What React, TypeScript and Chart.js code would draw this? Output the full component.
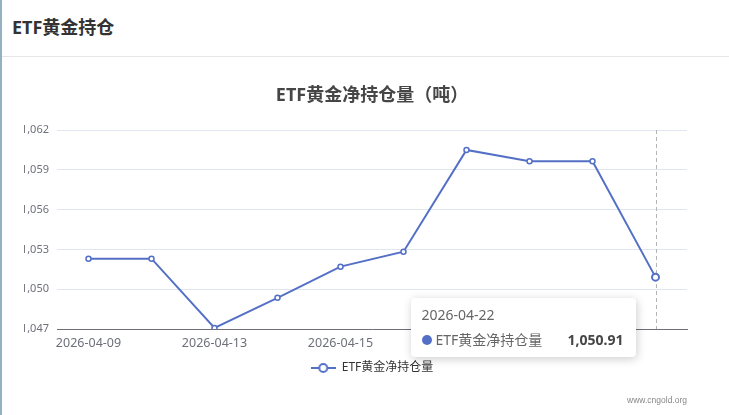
import React, { useEffect, useRef } from 'react';
import { Chart, registerables } from 'chart.js';

Chart.register(...registerables);

// ETF gold net holdings (tonnes)
const dates = [
  '2026-04-09', '2026-04-10', '2026-04-13', '2026-04-14', '2026-04-15',
  '2026-04-16', '2026-04-17', '2026-04-20', '2026-04-21', '2026-04-22',
];
const holdings = [1052.3, 1052.3, 1047.08, 1049.35, 1051.7, 1052.83, 1060.5, 1059.65, 1059.65, 1050.91];
const yTicks = [1047, 1050, 1053, 1056, 1059, 1062];
const seriesName = 'ETF黄金净持仓量';
const activeIndex = 9;

const BLUE = '#5470c6';
const FONT = "'Noto Sans', 'Noto Sans CJK SC', sans-serif";
const CANVAS_TOP = 60;

const fmt = (v: number, d = 0) =>
  v.toLocaleString('en-US', { minimumFractionDigits: d, maximumFractionDigits: d });

function legendIcon() {
  const c = document.createElement('canvas');
  c.width = 25;
  c.height = 12;
  const g = c.getContext('2d')!;
  g.strokeStyle = BLUE;
  g.lineWidth = 2;
  g.beginPath();
  g.moveTo(0, 6);
  g.lineTo(25, 6);
  g.stroke();
  g.beginPath();
  g.arc(12.5, 6, 4, 0, Math.PI * 2);
  g.fillStyle = '#fff';
  g.fill();
  g.stroke();
  return c;
}

// dashed vertical line under the hovered point
const crosshair = {
  id: 'crosshair',
  beforeDatasetsDraw(chart: any) {
    const act = chart.tooltip?.getActiveElements?.() || [];
    if (!act.length) return;
    const x = Math.round(act[0].element.x) + 0.5;
    const { top, bottom } = chart.chartArea;
    const ctx = chart.ctx;
    ctx.save();
    ctx.strokeStyle = '#b4b4b4';
    ctx.lineWidth = 1;
    ctx.setLineDash([4, 3]);
    ctx.beginPath();
    ctx.moveTo(x, top);
    ctx.lineTo(x, bottom);
    ctx.stroke();
    ctx.restore();
  },
};

function App() {
  const chartRef = useRef<HTMLCanvasElement>(null);
  const tipRef = useRef<HTMLDivElement>(null);

  useEffect(() => {
    if (!chartRef.current) return;
    const ctx = chartRef.current.getContext('2d');
    if (!ctx) return;
    const icon = legendIcon();

    const chart = new Chart(ctx, {
      type: 'line',
      data: {
        labels: dates,
        datasets: [
          {
            label: seriesName,
            data: holdings,
            borderColor: BLUE,
            backgroundColor: '#fff',
            borderWidth: 2,
            pointRadius: 2.5,
            pointBorderWidth: 1.5,
            pointBackgroundColor: '#fff',
            pointBorderColor: BLUE,
            pointHoverRadius: 3.5,
            pointHoverBorderWidth: 2,
            pointHoverBackgroundColor: '#fff',
            pointHoverBorderColor: BLUE,
            tension: 0,
          },
        ],
      },
      options: {
        responsive: false,
        animation: false,
        events: [],
        // the y axis box starts at x=24, so its labels get clipped like the original
        layout: { padding: { left: 24, right: 42, top: 0, bottom: 16 } },
        plugins: {
          title: {
            display: true,
            fullSize: false,
            text: 'ETF黄金净持仓量（吨）',
            color: '#464646',
            font: { family: FONT, size: 18, weight: 'bold' },
            padding: { top: 25, bottom: 23.4 },
          },
          legend: {
            position: 'bottom',
            fullSize: false,
            labels: {
              color: '#333',
              font: { family: FONT, size: 12 },
              padding: 4,
              usePointStyle: true,
              pointStyleWidth: 25,
              generateLabels: (c: any) =>
                Chart.defaults.plugins.legend.labels
                  .generateLabels(c)
                  .map((l: any) => ({ ...l, pointStyle: icon })),
            },
          },
          tooltip: {
            enabled: false,
            external: ({ tooltip }: any) => {
              const el = tipRef.current;
              if (!el) return;
              el.style.opacity = tooltip.opacity ? '1' : '0';
              el.style.left = tooltip.caretX - 245 + 'px';
              el.style.top = CANVAS_TOP + tooltip.caretY + 21 + 'px';
            },
          },
        },
        scales: {
          x: {
            offset: true,
            grid: { display: false, drawTicks: false },
            border: { color: '#6e7079', width: 1 },
            ticks: {
              color: '#6e7079',
              font: { family: FONT, size: 12.5 },
              padding: 7,
              autoSkip: false,
              maxRotation: 0,
              callback: (_v: any, i: number) => (i % 2 === 0 ? dates[i] : ''),
            },
          },
          y: {
            min: yTicks[0],
            max: yTicks[yTicks.length - 1],
            afterFit: (s: any) => {
              s.width = 33;
            },
            grid: { color: '#e0e6f1', drawTicks: false },
            border: { display: false },
            ticks: {
              stepSize: yTicks[1] - yTicks[0],
              color: '#6e7079',
              font: { family: FONT, size: 11 },
              padding: 8,
              callback: (v: any) => fmt(Number(v)),
            },
          },
        },
      },
      plugins: [crosshair],
    });

    const meta = chart.getDatasetMeta(0);
    const pt = meta.data[activeIndex];
    chart.setActiveElements([{ datasetIndex: 0, index: activeIndex }]);
    chart.tooltip?.setActiveElements([{ datasetIndex: 0, index: activeIndex }], { x: pt.x, y: pt.y });
    chart.update();

    return () => {
      chart.destroy();
    };
  }, []);

  return (
    <div
      style={{
        position: 'fixed',
        top: 0,
        left: 0,
        width: 729,
        height: 415,
        background: '#fff',
        overflow: 'hidden',
        fontFamily: FONT,
      }}
    >
      <div style={{ position: 'absolute', left: 0, top: 0, width: 2, height: 415, background: '#93b1c0' }} />
      <div
        style={{
          position: 'absolute',
          left: 12,
          top: 16,
          fontSize: 18,
          fontWeight: 'bold',
          color: '#333',
          lineHeight: '22px',
        }}
      >
        ETF黄金持仓
      </div>
      <div style={{ position: 'absolute', left: 2, top: 56, width: 727, height: 1, background: '#e6e6e6' }} />
      <canvas
        ref={chartRef}
        width={729}
        height={340}
        style={{ position: 'absolute', left: 0, top: CANVAS_TOP, width: 729, height: 340 }}
      />
      <div
        ref={tipRef}
        style={{
          position: 'absolute',
          left: 410,
          top: 299,
          width: 225,
          height: 59,
          boxSizing: 'border-box',
          background: '#fff',
          borderRadius: 4,
          boxShadow: '1px 2px 10px rgba(0,0,0,0.2)',
          padding: '8px 12px 0 11px',
          color: '#666',
          fontSize: 14,
          opacity: 0,
        }}
      >
        <div style={{ lineHeight: '18px' }}>{dates[activeIndex]}</div>
        <div style={{ display: 'flex', alignItems: 'center', marginTop: 7, lineHeight: '18px' }}>
          <span
            style={{
              width: 10,
              height: 10,
              borderRadius: 5,
              background: BLUE,
              marginRight: 4,
              display: 'inline-block',
            }}
          />
          <span>{seriesName}</span>
          <span style={{ marginLeft: 'auto', fontWeight: 'bold', color: '#464646' }}>
            {fmt(holdings[activeIndex], 2)}
          </span>
        </div>
      </div>
      <div
        style={{
          position: 'absolute',
          left: 627,
          top: 395,
          fontSize: 8.5,
          color: '#888',
          fontFamily: "'Liberation Sans', Arial, sans-serif",
        }}
      >
        www.cngold.org
      </div>
    </div>
  );
}

export default App;
